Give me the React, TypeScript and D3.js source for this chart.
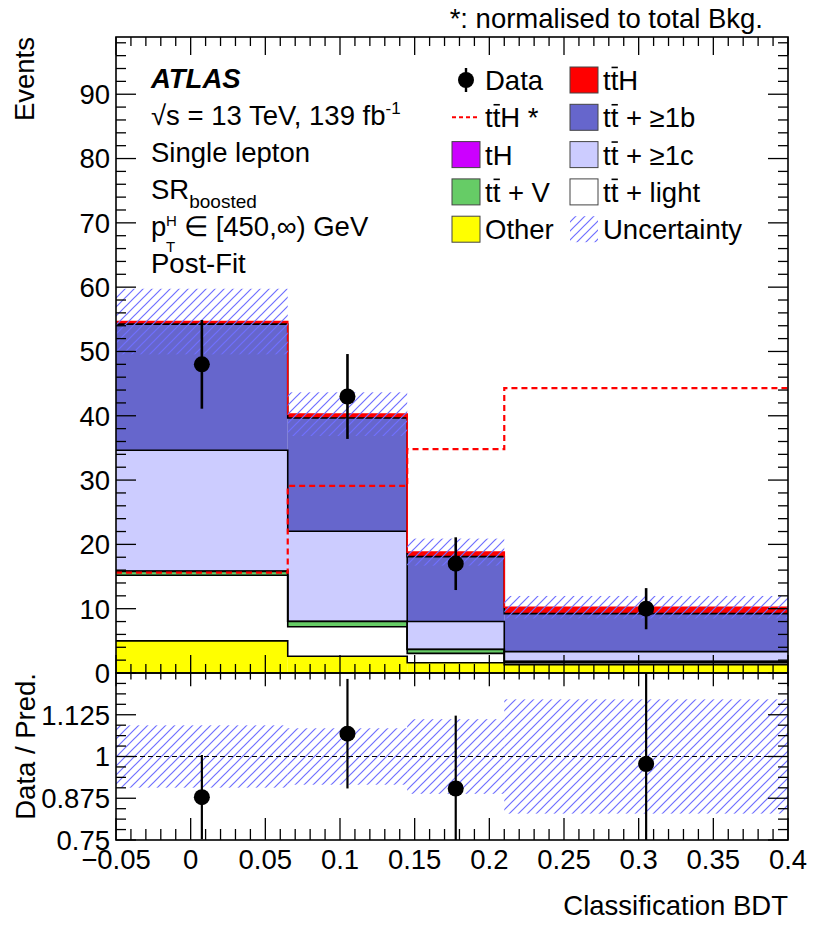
import * as d3 from 'd3'

// bins of the classification BDT
const binEdges = [-0.05, 0.065, 0.145, 0.21, 0.4]

// post-fit yields per bin (stacked bottom -> top)
const other = [5.0, 2.6, 1.6, 1.3]
const ttLight = [10.2, 4.6, 1.45, 0.3]
const ttV = [0.6, 0.8, 0.6, 0.2]
const tH = [0.05, 0.05, 0.05, 0.03]
const ttC = [18.8, 14.0, 4.3, 1.5]
const ttB = [19.6, 17.6, 10.1, 5.9]
const ttH = [0.4, 0.6, 0.7, 1.0]
const uncertainty = [5.1, 3.4, 2.1, 1.75]

const dataValues = [48, 43, 17, 10]
const dataErrors = [6.9, 6.6, 4.1, 3.2]

// ttH shape normalised to total background
const ttHNorm = [15.6, 29.1, 34.8, 44.3]

const xTicks = [-0.05, 0, 0.05, 0.1, 0.15, 0.2, 0.25, 0.3, 0.35, 0.4]
const xTickLabels = ['\u22120.05', '0', '0.05', '0.1', '0.15', '0.2', '0.25', '0.3', '0.35', '0.4']
const yTicks = [0, 10, 20, 30, 40, 50, 60, 70, 80, 90]
const ratioTicks = [0.75, 0.875, 1, 1.125]
const ratioTickLabels = ['0.75', '0.875', '1', '1.125']

const samples = [
  { name: 'Other', values: other, fill: '#ffff00', stroke: '#000' },
  { name: 'ttlight', values: ttLight, fill: '#ffffff', stroke: '#000' },
  { name: 'ttV', values: ttV, fill: '#66cc66', stroke: '#000' },
  { name: 'tH', values: tH, fill: '#cc00ff', stroke: '#000' },
  { name: 'ttc', values: ttC, fill: '#ccccff', stroke: '#000' },
  { name: 'ttb', values: ttB, fill: '#6666cc', stroke: '#000' },
  { name: 'ttH', values: ttH, fill: '#ff0000', stroke: '#ff0000' },
]

const legendLeft = [
  { label: 'Data', kind: 'data' },
  { label: 'tt\u0304H *', kind: 'dash' },
  { label: 'tH', kind: 'box', fill: '#cc00ff' },
  { label: 'tt\u0304 + V', kind: 'box', fill: '#66cc66' },
  { label: 'Other', kind: 'box', fill: '#ffff00' },
]
const legendRight = [
  { label: 'tt\u0304H', kind: 'box', fill: '#ff0000' },
  { label: 'tt\u0304 + \u22651b', kind: 'box', fill: '#6666cc' },
  { label: 'tt\u0304 + \u22651c', kind: 'box', fill: '#ccccff' },
  { label: 'tt\u0304 + light', kind: 'box', fill: '#ffffff' },
  { label: 'Uncertainty', kind: 'hatch' },
]

const W = 830
const H = 936
const L = 116
const R = 788
const mainTop = 37
const mainBottom = 673
const ratioBottom = 840
const font = 'Liberation Sans, Arial, Helvetica, sans-serif'
const fs = 27.5

function Label({ x, y, text, size = fs }: { x: number; y: number; text: string; size?: number }) {
  // draws "tt̄..." with a real overline on the second t
  if (text.startsWith('tt\u0304')) {
    const rest = text.slice(3)
    return (
      <g>
        <text x={x} y={y} fontSize={size} fontFamily={font}>
          tt{rest}
        </text>
        <line x1={x + 0.31 * size} x2={x + 0.54 * size} y1={y - 0.82 * size} y2={y - 0.82 * size}
          stroke="#000" strokeWidth={1.6} />
      </g>
    )
  }
  return (
    <text x={x} y={y} fontSize={size} fontFamily={font}>
      {text}
    </text>
  )
}

export default function App() {
  const x = d3.scaleLinear().domain([-0.05, 0.4]).range([L, R])
  const y = d3.scaleLinear().domain([0, 98.9]).range([mainBottom, mainTop])
  const yr = d3.scaleLinear().domain([0.75, 1.25]).range([ratioBottom, mainBottom])

  const nBins = binEdges.length - 1
  const bins = d3.range(nBins)

  // cumulative stack levels
  const levels: number[][] = []
  let acc = bins.map(() => 0)
  samples.forEach(s => {
    acc = acc.map((a, i) => a + s.values[i])
    levels.push(acc.slice())
  })
  const total = levels[levels.length - 1]

  const stepPts = (vals: number[]) => [
    ...bins.map(i => [binEdges[i], vals[i]] as [number, number]),
    [binEdges[nBins], vals[nBins - 1]] as [number, number],
  ]
  const mainLine = d3.line<[number, number]>().x(d => x(d[0])).y(d => y(d[1])).curve(d3.curveStepAfter)

  const xMinor = d3.range(-0.05, 0.4001, 0.01)
  const yMinor = d3.range(0, 99, 2)
  const rMinor = d3.range(0.75, 1.2501, 0.03125)

  const ratio = bins.map(i => dataValues[i] / total[i])
  const ratioErr = bins.map(i => dataErrors[i] / total[i])
  const ratioUnc = bins.map(i => uncertainty[i] / total[i])

  const hatch = 'url(#hatch)'

  return (
    <svg width={W} height={H} style={{ position: 'absolute', left: 0, top: 0, background: '#fff' }}>
      <defs>
        <pattern id="hatch" patternUnits="userSpaceOnUse" width={9} height={9}>
          <path d="M0,9 L9,0 M-2,2 L2,-2 M7,11 L11,7" stroke="#6f6fff" strokeWidth={1.2} />
        </pattern>
        <clipPath id="mainClip">
          <rect x={L} y={mainTop} width={R - L} height={mainBottom - mainTop} />
        </clipPath>
        <clipPath id="ratioClip">
          <rect x={L} y={mainBottom} width={R - L} height={ratioBottom - mainBottom} />
        </clipPath>
      </defs>

      {/* main panel stack */}
      <g clipPath="url(#mainClip)">
        {samples.map((s, k) =>
          bins.map(i => {
            const lo = k === 0 ? 0 : levels[k - 1][i]
            const hi = levels[k][i]
            return (
              <rect key={s.name + i} x={x(binEdges[i])} width={x(binEdges[i + 1]) - x(binEdges[i])}
                y={y(hi)} height={y(lo) - y(hi)} fill={s.fill} />
            )
          })
        )}
        {samples.map((s, k) => (
          <path key={'l' + s.name} d={mainLine(stepPts(levels[k])) ?? ''} fill="none"
            stroke={s.stroke} strokeWidth={1.6} />
        ))}
        {bins.map(i => (
          <rect key={'u' + i} x={x(binEdges[i])} width={x(binEdges[i + 1]) - x(binEdges[i])}
            y={y(total[i] + uncertainty[i])} height={y(total[i] - uncertainty[i]) - y(total[i] + uncertainty[i])}
            fill={hatch} />
        ))}
        <path d={mainLine(stepPts(ttHNorm)) ?? ''} fill="none" stroke="#ff0000" strokeWidth={2.2}
          strokeDasharray="6,4" />
        {bins.map(i => {
          const cx = x((binEdges[i] + binEdges[i + 1]) / 2)
          return (
            <g key={'d' + i}>
              <line x1={cx} x2={cx} y1={y(dataValues[i] + dataErrors[i])} y2={y(dataValues[i] - dataErrors[i])}
                stroke="#000" strokeWidth={2.6} />
              <circle cx={cx} cy={y(dataValues[i])} r={8} fill="#000" />
            </g>
          )
        })}
      </g>

      {/* ratio panel */}
      <g clipPath="url(#ratioClip)">
        {bins.map(i => (
          <rect key={'ru' + i} x={x(binEdges[i])} width={x(binEdges[i + 1]) - x(binEdges[i])}
            y={yr(1 + ratioUnc[i])} height={yr(1 - ratioUnc[i]) - yr(1 + ratioUnc[i])} fill={hatch} />
        ))}
        <line x1={L} x2={R} y1={yr(1)} y2={yr(1)} stroke="#000" strokeWidth={1} strokeDasharray="5,3" />
        {bins.map(i => {
          const cx = x((binEdges[i] + binEdges[i + 1]) / 2)
          return (
            <g key={'rd' + i}>
              <line x1={cx} x2={cx} y1={yr(ratio[i] + ratioErr[i])} y2={yr(ratio[i] - ratioErr[i])}
                stroke="#000" strokeWidth={2.2} />
              <circle cx={cx} cy={yr(ratio[i])} r={8} fill="#000" />
            </g>
          )
        })}
      </g>

      {/* frames */}
      <rect x={L} y={mainTop} width={R - L} height={mainBottom - mainTop} fill="none" stroke="#000" strokeWidth={1.6} />
      <rect x={L} y={mainBottom} width={R - L} height={ratioBottom - mainBottom} fill="none" stroke="#000" strokeWidth={1.6} />

      {/* ticks on all four sides of both panels */}
      <g stroke="#000" strokeWidth={1.3}>
        {xMinor.map((t, i) => {
          const major = xTicks.some(v => Math.abs(v - t) < 1e-6)
          const xx = x(t)
          const lm = major ? 18 : 9
          const lr = major ? 22 : 11
          return (
            <g key={'xt' + i}>
              <line x1={xx} x2={xx} y1={mainBottom} y2={mainBottom - lm} />
              <line x1={xx} x2={xx} y1={mainTop} y2={mainTop + lm} />
              <line x1={xx} x2={xx} y1={ratioBottom} y2={ratioBottom - lr} />
              <line x1={xx} x2={xx} y1={mainBottom} y2={mainBottom + lr * 0.6} />
            </g>
          )
        })}
        {yMinor.map((t, i) => {
          const yy = y(t)
          const len = t % 10 === 0 ? 20 : 10
          return (
            <g key={'yt' + i}>
              <line x1={L} x2={L + len} y1={yy} y2={yy} />
              <line x1={R} x2={R - len} y1={yy} y2={yy} />
            </g>
          )
        })}
        {rMinor.map((t, i) => {
          const yy = yr(t)
          const len = i % 4 === 0 ? 20 : 10
          return (
            <g key={'rt' + i}>
              <line x1={L} x2={L + len} y1={yy} y2={yy} />
              <line x1={R} x2={R - len} y1={yy} y2={yy} />
            </g>
          )
        })}
      </g>

      {/* tick labels and axis titles */}
      <g fontFamily={font} fontSize={fs} fill="#000">
        {yTicks.map(t => (
          <text key={'yl' + t} x={110} y={y(t)} dy="0.36em" textAnchor="end">{t}</text>
        ))}
        {ratioTicks.map((t, i) => (
          <text key={'rl' + t} x={110} y={yr(t)} dy="0.36em" textAnchor="end">{ratioTickLabels[i]}</text>
        ))}
        {xTicks.map((t, i) => (
          <text key={'xl' + t} x={x(t)} y={869} textAnchor="middle">{xTickLabels[i]}</text>
        ))}
        <text transform={`translate(34,${mainTop}) rotate(-90)`} textAnchor="end">Events</text>
        <text transform={`translate(35,${mainBottom}) rotate(-90)`} textAnchor="end">Data / Pred.</text>
        <text x={R} y={915} textAnchor="end">Classification BDT</text>
        <text x={763} y={28} textAnchor="end">*: normalised to total Bkg.</text>
      </g>

      {/* ATLAS label block */}
      <g fontFamily={font} fontSize={fs} fill="#000">
        <text x={151} y={88} fontWeight="bold" fontStyle="italic">ATLAS</text>
        <text x={151} y={125}>
          {'\u221As = 13 TeV, 139 fb'}
          <tspan fontSize={17} dy={-11}>-1</tspan>
        </text>
        <text x={151} y={162}>Single lepton</text>
        <text x={151} y={199}>
          SR<tspan fontSize={19} dy={9}>boosted</tspan>
        </text>
        <text x={151} y={236}>p</text>
        <text x={166} y={226} fontSize={15}>H</text>
        <text x={166} y={252} fontSize={15}>T</text>
        <text x={184} y={236}>{'\u2208 [450,\u221E) GeV'}</text>
        <text x={151} y={273}>Post-Fit</text>
      </g>

      {/* legend */}
      {[legendLeft, legendRight].map((col, c) => {
        const bx = c === 0 ? 452 : 570
        const tx = c === 0 ? 485 : 603
        return col.map((e, r) => {
          const cy = 80 + r * 37.3
          let sym = null
          if (e.kind === 'data') {
            sym = (
              <g>
                <line x1={bx + 14} x2={bx + 14} y1={cy - 12} y2={cy + 12} stroke="#000" strokeWidth={2.4} />
                <circle cx={bx + 14} cy={cy} r={8} fill="#000" />
              </g>
            )
          } else if (e.kind === 'dash') {
            sym = <line x1={bx} x2={bx + 28} y1={cy} y2={cy} stroke="#ff0000" strokeWidth={2} strokeDasharray="4,3" />
          } else if (e.kind === 'hatch') {
            sym = <rect x={bx} y={cy - 13} width={28} height={26} fill={hatch} />
          } else {
            sym = <rect x={bx} y={cy - 13} width={28} height={26} fill={e.fill} stroke="#444" strokeWidth={1} />
          }
          return (
            <g key={'lg' + c + r}>
              {sym}
              <Label x={tx} y={cy + 10} text={e.label} />
            </g>
          )
        })
      })}
    </svg>
  )
}
